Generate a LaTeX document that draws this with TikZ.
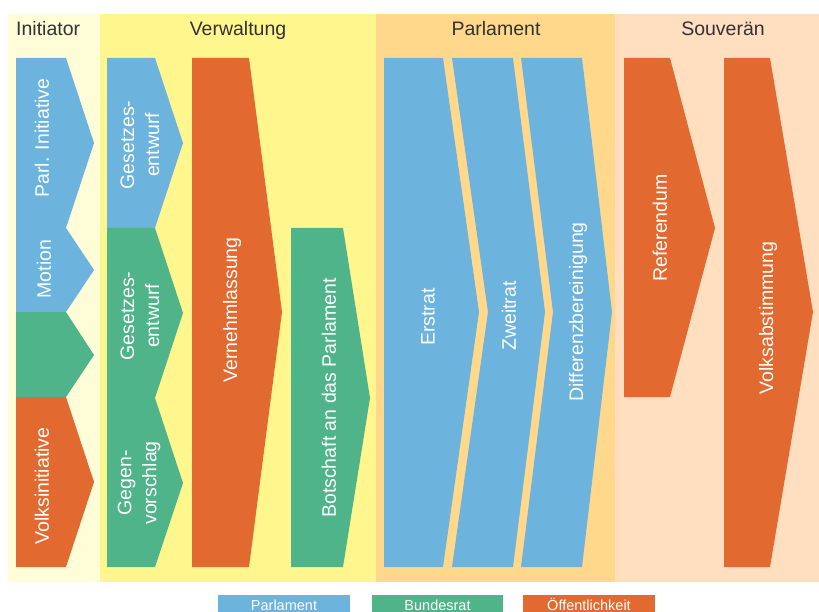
\documentclass[tikz,border=0pt]{standalone}
\usepackage{fontspec}
\setmainfont{Liberation Sans}
\definecolor{parlblue}{RGB}{108,179,221}
\definecolor{brgreen}{RGB}{80,180,138}
\definecolor{puborange}{RGB}{226,106,48}
\definecolor{initbg}{RGB}{255,253,216}
\definecolor{verwbg}{RGB}{255,246,142}
\definecolor{parlbg}{RGB}{255,216,140}
\definecolor{souvbg}{RGB}{255,223,192}
\definecolor{headgray}{RGB}{51,51,51}
\begin{document}
\begin{tikzpicture}[x=1pt,y=-1pt,
    lbl/.style={rotate=90,text=white,font=\fontsize{19.5}{25}\selectfont,align=center,inner sep=0pt},
    head/.style={text=headgray,font=\fontsize{19.5}{24}\selectfont,inner sep=0pt},
    key/.style={text=white,font=\fontsize{14.5}{18}\selectfont,text height=10.5pt,text depth=0pt,minimum width=132pt,minimum height=21pt,inner sep=0pt}]
    \clip (0,0) rectangle (819,612);
    \fill[white] (0,0) rectangle (819,612);
    \fill[initbg] (8,14) rectangle (100,582);
    \fill[verwbg] (100,14) rectangle (376,582);
    \fill[parlbg] (376,14) rectangle (615,582);
    \fill[souvbg] (615,14) rectangle (819,582);
    \node[head,anchor=base west] (hinit) at (16,36) {Initiator};
    \node[head,anchor=base] (hverw) at (238,36) {Verwaltung};
    \node[head,anchor=base] (hparl) at (496,36) {Parlament};
    \node[head,anchor=base] (hsouv) at (723,36) {Souverän};
    \fill[parlblue] (16,58) -- (66,58) -- (94,143) -- (66,228) -- (94,270) -- (66,312) -- (16,312) -- cycle;
    \fill[brgreen] (16,312) -- (66,312) -- (94,355) -- (66,397) -- (16,397) -- cycle;
    \fill[puborange] (16,397) -- (66,397) -- (94,482) -- (66,567) -- (16,567) -- cycle;
    \fill[parlblue] (107,58) -- (155,58) -- (183,143) -- (155,228) -- (107,228) -- cycle;
    \fill[brgreen] (107,228) -- (155,228) -- (183,313) -- (155,398) -- (183,483) -- (155,567) -- (107,567) -- cycle;
    \fill[puborange] (192,58) -- (249,58) -- (282,312) -- (249,567) -- (192,567) -- cycle;
    \fill[brgreen] (291,228) -- (343,228) -- (370,398) -- (343,567) -- (291,567) -- cycle;
    \fill[parlblue] (384,58) -- (443,58) -- (479,312) -- (443,567) -- (384,567) -- cycle;
    \fill[parlblue] (452,58) -- (513,58) -- (545,312) -- (513,567) -- (452,567) -- (488,312) -- cycle;
    \fill[parlblue] (521,58) -- (582,58) -- (612,312) -- (582,567) -- (521,567) -- (553,312) -- cycle;
    \fill[puborange] (624,58) -- (670,58) -- (715,228) -- (670,397) -- (624,397) -- cycle;
    \fill[puborange] (724,58) -- (770,58) -- (813,312) -- (770,567) -- (724,567) -- cycle;
    \node[lbl] (parlinit) at (42,138) {Parl. Initiative};
    \node[lbl] (motion) at (44,269) {Motion};
    \node[lbl] (volksinit) at (42,486) {Volksinitiative};
    \node[lbl] (entwurfa) at (140,145) {Gesetzes-\\entwurf};
    \node[lbl] (entwurfb) at (140,316) {Gesetzes-\\entwurf};
    \node[lbl] (gegenv) at (139,483) {Gegen-\\vorschlag};
    \node[lbl] (vernehm) at (232,310) {Vernehmlassung};
    \node[lbl] (botschaft) at (329,398) {Botschaft an das Parlament};
    \node[lbl] (erstrat) at (428,317) {Erstrat};
    \node[lbl] (zweitrat) at (509,316) {Zweitrat};
    \node[lbl] (differenz) at (578,312) {Differenzbereinigung};
    \node[lbl] (referendum) at (660,228) {Referendum};
    \node[lbl] (volksabst) at (768,318) {Volksabstimmung};
    \node[key,fill=parlblue] (keyparl) at (284,605) {Parlament};
    \node[key,fill=brgreen,minimum width=131pt] (keybr) at (437.5,605) {Bundesrat};
    \node[key,fill=puborange] (keypub) at (589,605) {Öffentlichkeit};
  \end{tikzpicture}
\end{document}
